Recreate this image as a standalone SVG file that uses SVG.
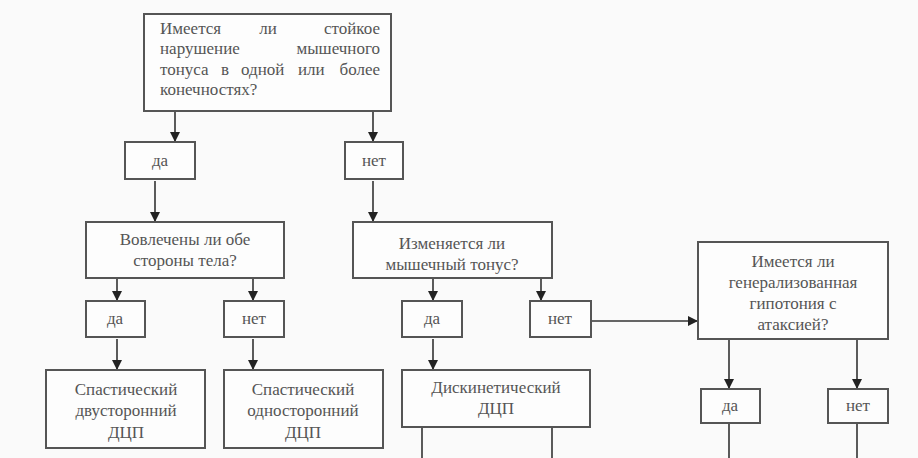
<svg xmlns="http://www.w3.org/2000/svg" width="918" height="458" viewBox="0 0 918 458">
<style>
.box{fill:#fdfdfd;stroke:#555;stroke-width:2}
.t{font-family:"Liberation Serif","DejaVu Serif","Times New Roman",serif;font-size:17px;fill:#555;text-anchor:middle}
.tl{font-family:"Liberation Serif","DejaVu Serif","Times New Roman",serif;font-size:17px;fill:#555}
.c{stroke:#333;stroke-width:1.6;fill:none}
</style>
<defs>
<marker id="ah" viewBox="0 0 10 10" refX="10" refY="5" markerWidth="10" markerHeight="10" markerUnits="userSpaceOnUse" orient="auto">
<path d="M0,0 L10,5 L0,10 z" fill="#222"/>
</marker>
</defs>
<rect width="918" height="458" fill="#fafafa"/>
<g id="connectors">
<line class="c" x1="175" y1="111" x2="175" y2="142" marker-end="url(#ah)"/>
<line class="c" x1="373" y1="111" x2="373" y2="142" marker-end="url(#ah)"/>
<line class="c" x1="155" y1="181" x2="155" y2="222" marker-end="url(#ah)"/>
<line class="c" x1="373" y1="181" x2="373" y2="222" marker-end="url(#ah)"/>
<line class="c" x1="117" y1="278" x2="117" y2="301" marker-end="url(#ah)"/>
<line class="c" x1="253" y1="278" x2="253" y2="301" marker-end="url(#ah)"/>
<line class="c" x1="117" y1="339" x2="117" y2="370" marker-end="url(#ah)"/>
<line class="c" x1="253" y1="339" x2="253" y2="370" marker-end="url(#ah)"/>
<line class="c" x1="433" y1="278" x2="433" y2="301" marker-end="url(#ah)"/>
<line class="c" x1="541" y1="278" x2="541" y2="301" marker-end="url(#ah)"/>
<line class="c" x1="433" y1="339" x2="433" y2="370" marker-end="url(#ah)"/>
<line class="c" x1="591" y1="321" x2="698" y2="321" marker-end="url(#ah)"/>
<line class="c" x1="729" y1="339" x2="729" y2="389" marker-end="url(#ah)"/>
<line class="c" x1="857" y1="339" x2="857" y2="389" marker-end="url(#ah)"/>
<line class="c" x1="422" y1="427" x2="422" y2="458"/>
<line class="c" x1="552" y1="427" x2="552" y2="458"/>
<line class="c" x1="729" y1="423" x2="729" y2="458"/>
<line class="c" x1="857" y1="423" x2="857" y2="458"/>
</g>
<g id="q1">
<rect class="box" x="144" y="14" width="247" height="97"/>
<text class="tl" x="160" y="34">Имеется</text>
<text class="t" x="268" y="34">ли</text>
<text class="tl" x="380" y="34" text-anchor="end">стойкое</text>
<text class="tl" x="160" y="54">нарушение</text>
<text class="tl" x="380" y="54" text-anchor="end">мышечного</text>
<text class="tl" x="160" y="75">тонуса</text>
<text class="tl" x="221" y="75">в</text>
<text class="tl" x="241" y="75">одной</text>
<text class="tl" x="298" y="75">или</text>
<text class="tl" x="380" y="75" text-anchor="end">более</text>
<text class="tl" x="160" y="95">конечностях?</text>
</g>
<g id="yes1">
<rect class="box" x="125" y="142" width="70" height="37"/>
<text class="t" x="160" y="166">да</text>
</g>
<g id="no1">
<rect class="box" x="345" y="142" width="58" height="37"/>
<text class="t" x="374" y="166">нет</text>
</g>
<g id="q2">
<rect class="box" x="86" y="222" width="198" height="56"/>
<text class="t" x="185" y="245">Вовлечены ли обе</text>
<text class="t" x="185" y="266">стороны тела?</text>
</g>
<g id="q3">
<rect class="box" x="353" y="222" width="199" height="56"/>
<text class="t" x="452" y="249">Изменяется ли</text>
<text class="t" x="452" y="270">мышечный тонус?</text>
</g>
<g id="yes2">
<rect class="box" x="86" y="301" width="59" height="36"/>
<text class="t" x="115" y="324">да</text>
</g>
<g id="no2">
<rect class="box" x="224" y="301" width="60" height="36"/>
<text class="t" x="254" y="324">нет</text>
</g>
<g id="yes3">
<rect class="box" x="402" y="301" width="60" height="36"/>
<text class="t" x="432" y="324">да</text>
</g>
<g id="no3">
<rect class="box" x="530" y="301" width="61" height="36"/>
<text class="t" x="560" y="324">нет</text>
</g>
<g id="r1">
<rect class="box" x="46" y="370" width="159" height="78"/>
<text class="t" x="126" y="395">Спастический</text>
<text class="t" x="126" y="416">двусторонний</text>
<text class="t" x="126" y="438">ДЦП</text>
</g>
<g id="r2">
<rect class="box" x="224" y="370" width="159" height="78"/>
<text class="t" x="303" y="395">Спастический</text>
<text class="t" x="303" y="416">односторонний</text>
<text class="t" x="303" y="438">ДЦП</text>
</g>
<g id="r3">
<rect class="box" x="402" y="370" width="188" height="57"/>
<text class="t" x="496" y="393">Дискинетический</text>
<text class="t" x="496" y="414">ДЦП</text>
</g>
<g id="q4">
<rect class="box" x="698" y="242" width="190" height="97"/>
<text class="t" x="793" y="267">Имеется ли</text>
<text class="t" x="793" y="288">генерализованная</text>
<text class="t" x="793" y="309">гипотония с</text>
<text class="t" x="793" y="330">атаксией?</text>
</g>
<g id="yes4">
<rect class="box" x="701" y="389" width="59" height="34"/>
<text class="t" x="730" y="411">да</text>
</g>
<g id="no4">
<rect class="box" x="828" y="389" width="60" height="34"/>
<text class="t" x="858" y="411">нет</text>
</g>
</svg>
